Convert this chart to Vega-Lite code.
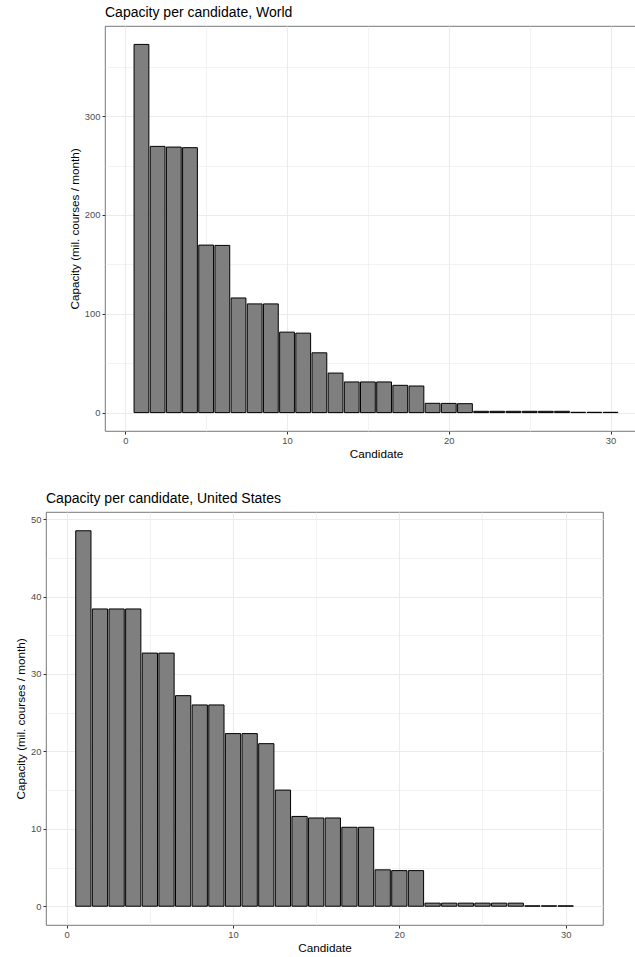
{
  "$schema": "https://vega.github.io/schema/vega-lite/v6.json",
  "background": "white",
  "padding": {"left": 15, "top": 5, "right": 0, "bottom": 0},
  "spacing": 30,
  "config": {
    "font": "Liberation Sans",
    "view": {"stroke": "#555555", "strokeWidth": 0.8},
    "axis": {
      "domain": false,
      "tickColor": "#333333",
      "tickSize": 3,
      "labelColor": "#4D4D4D",
      "labelFontSize": 9.4,
      "labelPadding": 2,
      "labelOverlap": false,
      "titleFontSize": 11.7,
      "titleFontWeight": "normal",
      "titleColor": "#000000",
      "titlePadding": 4,
      "gridColor": "#EBEBEB"
    },
    "title": {"anchor": "start", "frame": "group", "fontSize": 14, "fontWeight": "normal", "color": "#000000", "offset": 6}
  },
  "datasets": {
    "world": [
      {"candidate": 1, "capacity": 372.6},
      {"candidate": 2, "capacity": 269.4},
      {"candidate": 3, "capacity": 268.7},
      {"candidate": 4, "capacity": 268.1},
      {"candidate": 5, "capacity": 169.5},
      {"candidate": 6, "capacity": 169.2},
      {"candidate": 7, "capacity": 116.0},
      {"candidate": 8, "capacity": 110.0},
      {"candidate": 9, "capacity": 110.0},
      {"candidate": 10, "capacity": 81.4},
      {"candidate": 11, "capacity": 80.4},
      {"candidate": 12, "capacity": 60.5},
      {"candidate": 13, "capacity": 40.0},
      {"candidate": 14, "capacity": 31.0},
      {"candidate": 15, "capacity": 31.0},
      {"candidate": 16, "capacity": 31.0},
      {"candidate": 17, "capacity": 27.6},
      {"candidate": 18, "capacity": 26.9},
      {"candidate": 19, "capacity": 9.4},
      {"candidate": 20, "capacity": 9.3},
      {"candidate": 21, "capacity": 9.0},
      {"candidate": 22, "capacity": 1.3},
      {"candidate": 23, "capacity": 1.3},
      {"candidate": 24, "capacity": 1.3},
      {"candidate": 25, "capacity": 1.3},
      {"candidate": 26, "capacity": 1.3},
      {"candidate": 27, "capacity": 1.3},
      {"candidate": 28, "capacity": 0.3},
      {"candidate": 29, "capacity": 0.3},
      {"candidate": 30, "capacity": 0.3}
    ],
    "us": [
      {"candidate": 1, "capacity": 48.5},
      {"candidate": 2, "capacity": 38.4},
      {"candidate": 3, "capacity": 38.4},
      {"candidate": 4, "capacity": 38.4},
      {"candidate": 5, "capacity": 32.7},
      {"candidate": 6, "capacity": 32.7},
      {"candidate": 7, "capacity": 27.2},
      {"candidate": 8, "capacity": 26.0},
      {"candidate": 9, "capacity": 26.0},
      {"candidate": 10, "capacity": 22.3},
      {"candidate": 11, "capacity": 22.3},
      {"candidate": 12, "capacity": 21.0},
      {"candidate": 13, "capacity": 15.0},
      {"candidate": 14, "capacity": 11.6},
      {"candidate": 15, "capacity": 11.4},
      {"candidate": 16, "capacity": 11.4},
      {"candidate": 17, "capacity": 10.2},
      {"candidate": 18, "capacity": 10.2},
      {"candidate": 19, "capacity": 4.7},
      {"candidate": 20, "capacity": 4.6},
      {"candidate": 21, "capacity": 4.6},
      {"candidate": 22, "capacity": 0.4},
      {"candidate": 23, "capacity": 0.4},
      {"candidate": 24, "capacity": 0.4},
      {"candidate": 25, "capacity": 0.4},
      {"candidate": 26, "capacity": 0.4},
      {"candidate": 27, "capacity": 0.4},
      {"candidate": 28, "capacity": 0.05},
      {"candidate": 29, "capacity": 0.05},
      {"candidate": 30, "capacity": 0.05}
    ]
  },
  "vconcat": [
    {
      "spacing": 0,
      "hconcat": [
        {
          "width": 22,
          "height": 10,
          "view": {"stroke": null},
          "data": {"values": [{"a": 0}]},
          "mark": {"type": "rule", "opacity": 0},
          "encoding": {}
        },
        {
          "title": {"text": "Capacity per candidate, World"},
          "width": 542,
          "height": 405,
          "data": {"name": "world"},
          "mark": {"type": "bar", "width": 14.8, "fill": "#7F7F7F", "stroke": "#000000", "strokeWidth": 1},
          "encoding": {
            "x": {
              "field": "candidate",
              "type": "quantitative",
              "scale": {"domain": [-0.945, 31.945], "nice": false, "zero": false},
              "axis": {
                "title": "Candidate",
                "values": [0, 5, 10, 15, 20, 25, 30],
                "labelExpr": "datum.value % 10 == 0 ? datum.label : ''",
                "tickOpacity": {"condition": {"test": "datum.value % 10 != 0", "value": 0}, "value": 1},
                "gridWidth": {"condition": {"test": "datum.value % 10 != 0", "value": 0.6}, "value": 1.1}
              }
            },
            "y": {
              "field": "capacity",
              "type": "quantitative",
              "scale": {"domain": [-18.63, 391.23], "nice": false, "zero": false},
              "axis": {
                "title": "Capacity (mil. courses / month)",
                "values": [0, 50, 100, 150, 200, 250, 300, 350],
                "labelExpr": "datum.value % 100 == 0 ? datum.label : ''",
                "tickOpacity": {"condition": {"test": "datum.value % 100 != 0", "value": 0}, "value": 1},
                "gridWidth": {"condition": {"test": "datum.value % 100 != 0", "value": 0.6}, "value": 1.1}
              }
            }
          }
        }
      ]
    },
    {
      "title": {"text": "Capacity per candidate, United States"},
      "width": 557,
      "height": 413,
      "data": {"name": "us"},
      "mark": {"type": "bar", "width": 15.25, "fill": "#7F7F7F", "stroke": "#000000", "strokeWidth": 1},
      "encoding": {
        "x": {
          "field": "candidate",
          "type": "quantitative",
          "scale": {"domain": [-0.945, 31.945], "nice": false, "zero": false},
          "axis": {
            "title": "Candidate",
            "values": [0, 5, 10, 15, 20, 25, 30],
            "labelExpr": "datum.value % 10 == 0 ? datum.label : ''",
            "tickOpacity": {"condition": {"test": "datum.value % 10 != 0", "value": 0}, "value": 1},
            "gridWidth": {"condition": {"test": "datum.value % 10 != 0", "value": 0.6}, "value": 1.1}
          }
        },
        "y": {
          "field": "capacity",
          "type": "quantitative",
          "scale": {"domain": [-2.425, 50.925], "nice": false, "zero": false},
          "axis": {
            "title": "Capacity (mil. courses / month)",
            "values": [0, 5, 10, 15, 20, 25, 30, 35, 40, 45, 50],
            "labelExpr": "datum.value % 10 == 0 ? datum.label : ''",
            "tickOpacity": {"condition": {"test": "datum.value % 10 != 0", "value": 0}, "value": 1},
            "gridWidth": {"condition": {"test": "datum.value % 10 != 0", "value": 0.6}, "value": 1.1}
          }
        }
      }
    }
  ]
}
